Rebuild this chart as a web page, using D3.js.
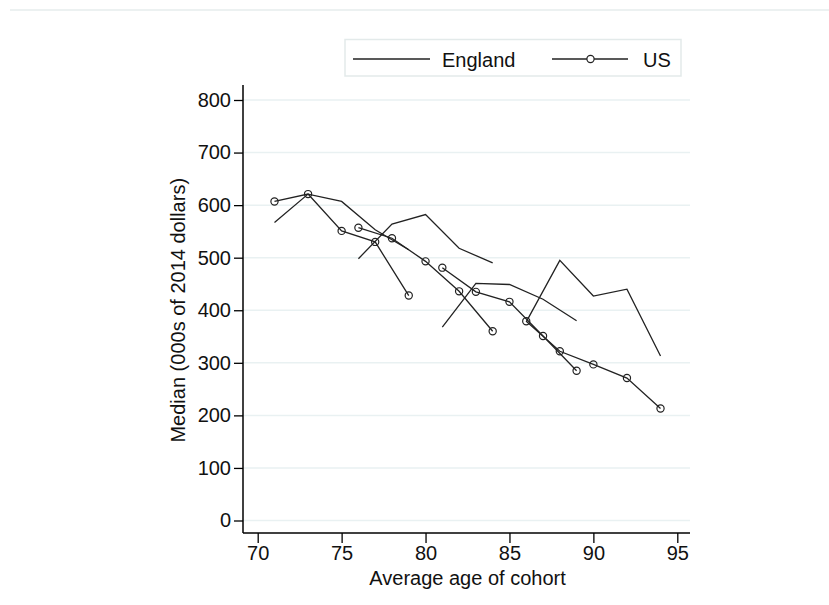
<!DOCTYPE html>
<html>
<head>
<meta charset="utf-8">
<script src="https://cdn.jsdelivr.net/npm/d3@7"></script>
<style>
  html, body { margin: 0; padding: 0; background: #fff; }
  svg { display: block; }
  text { font-family: "Liberation Sans", Arial, sans-serif; fill: #111; }
</style>
</head>
<body>
<svg id="chart" width="829" height="605"></svg>
<script>
// ---- data ----
const cohortAges = [
  [71, 73, 75, 77, 79],
  [76, 78, 80, 82, 84],
  [81, 83, 85, 87, 89],
  [86, 88, 90, 92, 94]
];
const englandValues = [
  [567, 621, 607, 553, 515],
  [498, 564, 582, 518, 490],
  [368, 451, 449, 421, 380],
  [378, 495, 427, 440, 313]
];
const usValues = [
  [607, 621, 551, 530, 428],
  [557, 537, 493, 436, 360],
  [481, 435, 416, 351, 285],
  [379, 322, 297, 271, 213]
];
const xTicks = [70, 75, 80, 85, 90, 95];
const yTicks = [0, 100, 200, 300, 400, 500, 600, 700, 800];
const seriesNames = ["England", "US"];
const xTitle = "Average age of cohort";
const yTitle = "Median (000s of 2014 dollars)";

// ---- layout ----
const svg = d3.select("#chart");
const fs = 20;
const x = d3.scaleLinear().domain([70, 95]).range([257.7, 677.3]);
const y = d3.scaleLinear().domain([0, 800]).range([520.5, 100]);
const axisLeftX = 243, axisBottomY = 533, plotTop = 85, plotRight = 690;

// top faint border line
svg.append("line").attr("x1", 10).attr("x2", 829).attr("y1", 10).attr("y2", 10)
  .attr("stroke", "#e6eded").attr("stroke-width", 1.5);

// gridlines
svg.append("g").selectAll("line").data(yTicks).join("line")
  .attr("x1", axisLeftX).attr("x2", plotRight)
  .attr("y1", d => y(d)).attr("y2", d => y(d))
  .attr("stroke", "#e9f1f2").attr("stroke-width", 1.5);

// y axis
const yAxis = svg.append("g").attr("transform", `translate(${axisLeftX},0)`)
  .call(d3.axisLeft(y).tickValues(yTicks).tickSize(9).tickPadding(3).tickSizeOuter(0));
yAxis.select(".domain").attr("d", `M0,${plotTop}V${axisBottomY}`).attr("stroke", "#000").attr("stroke-width", 1.5);
yAxis.selectAll(".tick line").attr("stroke", "#000").attr("stroke-width", 1.3);
yAxis.selectAll(".tick text").attr("font-size", fs).attr("fill", "#111")
  .attr("font-family", "Liberation Sans, Arial, sans-serif");

// x axis
const xAxis = svg.append("g").attr("transform", `translate(0,${axisBottomY})`)
  .call(d3.axisBottom(x).tickValues(xTicks).tickSize(10).tickPadding(3).tickSizeOuter(0));
xAxis.select(".domain").attr("d", `M${axisLeftX},0H${plotRight}`).attr("stroke", "#000").attr("stroke-width", 1.5);
xAxis.selectAll(".tick line").attr("stroke", "#000").attr("stroke-width", 1.3);
xAxis.selectAll(".tick text").attr("font-size", fs).attr("fill", "#111")
  .attr("font-family", "Liberation Sans, Arial, sans-serif");

// axis titles
svg.append("text").attr("x", (x(70) + x(95)) / 2).attr("y", 585)
  .attr("text-anchor", "middle").attr("font-size", fs).text(xTitle);
svg.append("text").attr("transform", `translate(185,${(y(0) + y(800)) / 2}) rotate(-90)`)
  .attr("text-anchor", "middle").attr("font-size", fs).text(yTitle);

// lines
const line = d3.line().x(d => x(d[0])).y(d => y(d[1]));
const engData = englandValues.map((vals, i) => vals.map((v, j) => [cohortAges[i][j], v]));
const usData = usValues.map((vals, i) => vals.map((v, j) => [cohortAges[i][j], v]));

svg.append("g").selectAll("path").data(engData).join("path")
  .attr("d", line).attr("fill", "none").attr("stroke", "#222").attr("stroke-width", 1.3);

svg.append("g").selectAll("path").data(usData).join("path")
  .attr("d", line).attr("fill", "none").attr("stroke", "#222").attr("stroke-width", 1.3);

svg.append("g").selectAll("circle").data(usData.flat()).join("circle")
  .attr("cx", d => x(d[0])).attr("cy", d => y(d[1])).attr("r", 3.6)
  .attr("fill", "none").attr("stroke", "#222").attr("stroke-width", 1.2);

// legend
const lg = svg.append("g");
lg.append("rect").attr("x", 345).attr("y", 39.5).attr("width", 336).attr("height", 36.5)
  .attr("fill", "#fff").attr("stroke", "#e3eaea").attr("stroke-width", 1.5);
lg.append("line").attr("x1", 353).attr("x2", 430).attr("y1", 59).attr("y2", 59)
  .attr("stroke", "#222").attr("stroke-width", 1.3);
lg.append("text").attr("x", 442).attr("y", 66.5).attr("font-size", fs).text(seriesNames[0]);
lg.append("line").attr("x1", 552).attr("x2", 628).attr("y1", 59).attr("y2", 59)
  .attr("stroke", "#222").attr("stroke-width", 1.3);
lg.append("circle").attr("cx", 590.5).attr("cy", 59).attr("r", 3.6)
  .attr("fill", "#fff").attr("stroke", "#222").attr("stroke-width", 1.2);
lg.append("text").attr("x", 643).attr("y", 66.5).attr("font-size", fs).text(seriesNames[1]);
</script>
</body>
</html>
